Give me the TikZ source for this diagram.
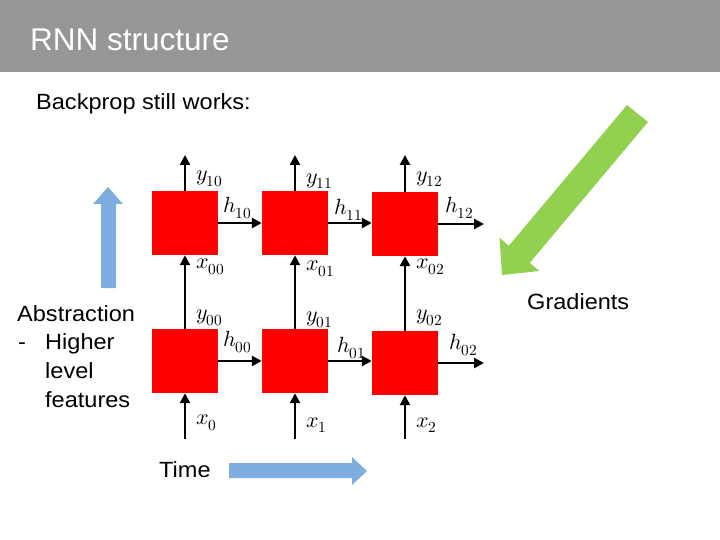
\documentclass[tikz,border=0pt]{standalone}
\usepackage{fontspec}
\usepackage{unicode-math}
\setmainfont{Liberation Sans}
\setmathfont{Latin Modern Math}
\newfontfamily\bodyfont[FakeStretch=1.07]{Liberation Sans}
\usetikzlibrary{arrows.meta}
\definecolor{titlegray}{HTML}{969696}
\definecolor{cellred}{HTML}{FF0000}
\definecolor{arrblue}{HTML}{7DAEDF}
\definecolor{arrgreen}{HTML}{92D050}
\tikzset{
  cell/.style={fill=cellred, minimum width=66pt, minimum height=64pt, inner sep=0pt},
  arr/.style={line width=2.5pt, -{Triangle[length=10pt,width=10pt]}},
  lbl/.style={anchor=west, inner sep=0pt, font=\fontsize{22}{24}\selectfont},
  txt/.style={anchor=base west, inner sep=0pt, font=\bodyfont\fontsize{22}{26}\selectfont},
}
\begin{document}
\begin{tikzpicture}[x=1pt,y=-1pt]
\useasboundingbox (0,0) rectangle (720,540);
\fill[titlegray] (0,0) rectangle (720,72);
\node[anchor=base west, inner sep=0pt, text=white, font=\fontsize{31.5}{36}\selectfont] (title) at (30,51) {RNN structure};
\node[txt] (bp) at (36,110) {Backprop still works:};

% cells
\node[cell] (c10) at (185,223) {};
\node[cell] (c11) at (295,223) {};
\node[cell] (c12) at (405,224) {};
\node[cell] (c00) at (185,361) {};
\node[cell] (c01) at (295,361) {};
\node[cell] (c02) at (405,363) {};

\coordinate (t0) at (185,155);
\coordinate (t1) at (295,155);
\coordinate (t2) at (405,155);
\coordinate (b0) at (185,439);
\coordinate (b1) at (295,439);
\coordinate (b2) at (405,439);
\coordinate (e1) at (484,224);
\coordinate (e0) at (484,363);

\draw[arr] (c10.north) -- (t0);
\draw[arr] (c11.north) -- (t1);
\draw[arr] (c12.north) -- (t2);
\draw[arr] (c00.north) -- (c10.south);
\draw[arr] (c01.north) -- (c11.south);
\draw[arr] (c02.north) -- (c12.south);
\draw[arr] (b0) -- (c00.south);
\draw[arr] (b1) -- (c01.south);
\draw[arr] (b2) -- (c02.south);
\draw[arr] (c10.east) -- (c11.west);
\draw[arr] (c11.east) -- (c11.east -| c12.west);
\draw[arr] (c12.east) -- (e1);
\draw[arr] (c00.east) -- (c01.west);
\draw[arr] (c01.east) -- (c01.east -| c02.west);
\draw[arr] (c02.east) -- (e0);

% labels top row
\node[lbl] (ly10) at (196,179) {$y_{10}$};
\node[lbl] (ly11) at (306,181) {$y_{11}$};
\node[lbl] (ly12) at (416,179) {$y_{12}$};
\node[lbl] (lh10) at (223,208) {$h_{10}$};
\node[lbl] (lh11) at (334,210) {$h_{11}$};
\node[lbl] (lh12) at (445,208) {$h_{12}$};
\node[lbl] (lx00) at (196,267) {$x_{00}$};
\node[lbl] (lx01) at (306,269) {$x_{01}$};
\node[lbl] (lx02) at (416,267) {$x_{02}$};
% labels bottom row
\node[lbl] (ly00) at (196,318) {$y_{00}$};
\node[lbl] (ly01) at (306,320) {$y_{01}$};
\node[lbl] (ly02) at (416,318) {$y_{02}$};
\node[lbl] (lh00) at (223,342) {$h_{00}$};
\node[lbl] (lh01) at (337,348) {$h_{01}$};
\node[lbl] (lh02) at (449,345) {$h_{02}$};
\node[lbl] (lx0) at (196,423) {$x_{0}$};
\node[lbl] (lx1) at (306,425) {$x_{1}$};
\node[lbl] (lx2) at (416,425) {$x_{2}$};

% blue up arrow
\fill[arrblue] (101,288) -- (101,204) -- (93,204) -- (108,187) -- (123,204) -- (116,204) -- (116,288) -- cycle;
% time arrow
\fill[arrblue] (229,463) -- (352,463) -- (352,457) -- (367,471) -- (352,485) -- (352,478) -- (229,478) -- cycle;
% green arrow
\fill[arrgreen] (627,105) -- (508.8,245.8) -- (499.5,237.6) -- (502,275) -- (539.3,271) -- (529.8,262.8) -- (648,122) -- cycle;

\node[txt] (abs) at (17,321) {Abstraction};
\node[txt] (dash) at (18,349) {-};
\node[txt] (hi) at (45,349) {Higher};
\node[txt] (lev) at (45,378) {level};
\node[txt] (feat) at (45,407) {features};
\node[txt] (time) at (159,477) {Time};
\node[txt] (grad) at (527,309) {Gradients};
\end{tikzpicture}
\end{document}
